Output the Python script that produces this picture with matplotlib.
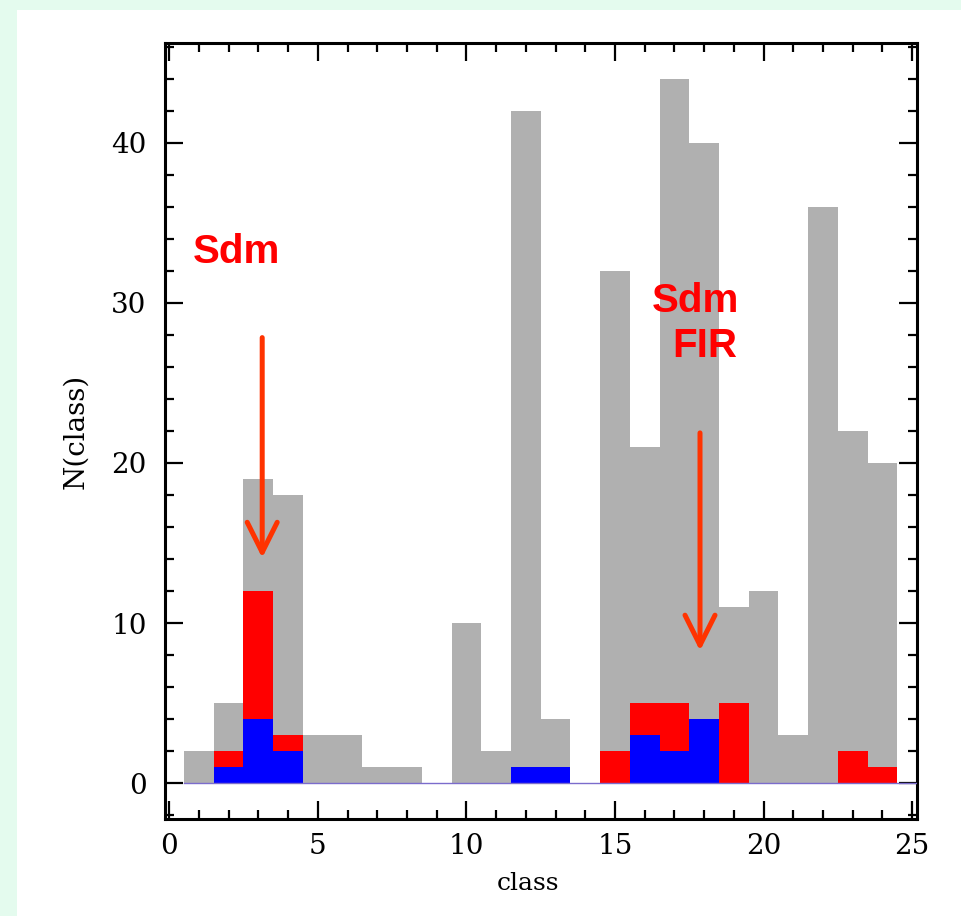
import matplotlib
matplotlib.use('Agg')
import matplotlib.pyplot as plt
from matplotlib.patches import Rectangle
from matplotlib.ticker import MultipleLocator

# histogram data (class bins 1..24)
classes = list(range(1, 25))
n_all = [2, 5, 19, 18, 3, 3, 1, 1, 0, 10, 2, 42, 4, 0, 32, 21, 44, 40, 11, 12, 3, 36, 22, 20]
n_red = [0, 2, 12, 3, 0, 0, 0, 0, 0, 0, 0, 0, 0, 0, 2, 5, 5, 4, 5, 0, 0, 0, 2, 1]
n_blue = [0, 1, 4, 2, 0, 0, 0, 0, 0, 0, 0, 1, 1, 0, 0, 3, 2, 4, 0, 0, 0, 0, 0, 0]

fig = plt.figure(figsize=(9.61, 9.16), dpi=100)
fig.patch.set_facecolor('#e4fbee')
# white panel behind everything
fig.patches.append(Rectangle((17 / 961, 0), 1, 1 - 10 / 916, transform=fig.transFigure,
                             facecolor='white', edgecolor='none', zorder=-10))

ax = fig.add_axes([0.1714, 0.1059, 0.7831, 0.8468])
ax.set_facecolor('white')

ax.bar(classes, n_all, width=1, color='#b0b0b0', zorder=1)
ax.bar(classes, n_red, width=1, color='#ff0000', zorder=2)
ax.bar(classes, n_blue, width=1, color='#0000ff', zorder=3)
ax.plot([0.5, 25.2], [0, 0], color='#7b6ccc', lw=1, zorder=4)

ax.set_xlim(-0.15, 25.17)
ax.set_ylim(-2.23, 46.2)

# arrows
arrow_kw = dict(arrowstyle='->,head_length=1.08,head_width=0.54', color='#ff3300',
                lw=3.6, capstyle='round', joinstyle='round', mutation_scale=20)
ax.annotate('', xy=(3.13, 13.9), xytext=(3.13, 28.0), arrowprops=arrow_kw)
ax.annotate('', xy=(17.86, 8.1), xytext=(17.86, 22.05), arrowprops=arrow_kw)

# labels
txt_kw = dict(color='#ff0000', fontsize=29, fontweight='bold', family='Liberation Sans')
ax.text(0.78, 32.5, 'Sdm', ha='left', va='baseline', **txt_kw)
ax.text(16.25, 29.4, 'Sdm', ha='left', va='baseline', **txt_kw)
ax.text(16.93, 26.6, 'FIR', ha='left', va='baseline', **txt_kw)

# ticks
ax.xaxis.set_major_locator(MultipleLocator(5))
ax.xaxis.set_minor_locator(MultipleLocator(1))
ax.yaxis.set_major_locator(MultipleLocator(10))
ax.yaxis.set_minor_locator(MultipleLocator(2))
ax.tick_params(which='both', direction='in', top=True, right=True, width=1.6, color='black')
ax.tick_params(which='major', length=13)
ax.tick_params(which='minor', length=6.5)
ax.tick_params(axis='x', which='major', pad=10, labelsize=20)
ax.tick_params(axis='y', which='major', pad=13, labelsize=20)
for lab in ax.get_xticklabels() + ax.get_yticklabels():
    lab.set_family('DejaVu Serif')
for s in ax.spines.values():
    s.set_linewidth(2.2)

ax.set_xlabel('class', family='DejaVu Serif', fontsize=18)
ax.xaxis.set_label_coords(0.483, -0.068)
ax.set_ylabel('N(class)', family='DejaVu Serif', fontsize=20)
ax.yaxis.set_label_coords(-0.1, 0.5)

fig.savefig('out.png', dpi=100, facecolor=fig.get_facecolor())
